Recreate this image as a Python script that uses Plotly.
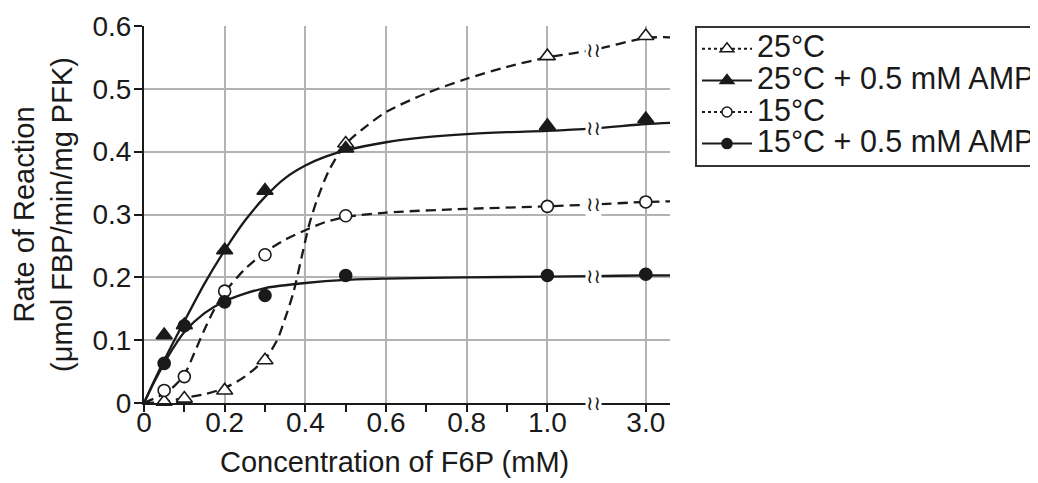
import numpy as np
import plotly.graph_objects as go

# ---------------- data ----------------
X_POINTS = [0.05, 0.1, 0.2, 0.3, 0.5, 1.0, 3.0]
Y_25 = [0.002, 0.007, 0.02, 0.068, 0.413, 0.552, 0.584]
Y_25_AMP = [0.108, 0.124, 0.243, 0.338, 0.405, 0.441, 0.452]
Y_15 = [0.02, 0.042, 0.178, 0.236, 0.298, 0.313, 0.32]
Y_15_AMP = [0.063, 0.123, 0.161, 0.171, 0.203, 0.203, 0.205]

# fitted curves
C25_X = [0, 0.05, 0.1, 0.15, 0.2, 0.25, 0.3, 0.33, 0.35, 0.37, 0.39, 0.41, 0.43, 0.46, 0.5,
         0.55, 0.6, 0.7, 0.8, 0.9, 1.0, 1.94, 3.0, 3.5]
C25_Y = [0, 0.002, 0.008, 0.014, 0.024, 0.042, 0.07, 0.10, 0.135, 0.175, 0.23, 0.285, 0.325,
         0.372, 0.412, 0.44, 0.463, 0.493, 0.516, 0.535, 0.55, 0.562, 0.581, 0.582]

C25A_X = [0, 0.025, 0.05, 0.1, 0.15, 0.2, 0.25, 0.3, 0.35, 0.4, 0.45, 0.5, 0.6, 0.7, 0.8,
          0.9, 1.0, 1.94, 3.0, 3.5]
C25A_Y = [0, 0.035, 0.068, 0.13, 0.19, 0.243, 0.29, 0.328, 0.358, 0.378, 0.392, 0.402, 0.415,
          0.423, 0.428, 0.431, 0.433, 0.437, 0.444, 0.446]

C15_X = [0, 0.05, 0.075, 0.1, 0.125, 0.15, 0.175, 0.2, 0.25, 0.3, 0.35, 0.4, 0.45, 0.5, 0.6,
         0.8, 1.0, 1.94, 3.0, 3.5]
C15_Y = [0, 0.015, 0.027, 0.045, 0.08, 0.117, 0.15, 0.176, 0.213, 0.24, 0.26, 0.275, 0.288,
         0.296, 0.303, 0.309, 0.313, 0.316, 0.32, 0.321]

C15A_X = [0, 0.025, 0.05, 0.075, 0.1, 0.15, 0.2, 0.25, 0.3, 0.4, 0.5, 0.6, 0.8, 1.0, 1.94,
          3.0, 3.5]
C15A_Y = [0, 0.033, 0.063, 0.09, 0.113, 0.143, 0.162, 0.174, 0.183, 0.191, 0.196, 0.198,
          0.2, 0.201, 0.202, 0.203, 0.203]

X_TICKS = [0, 0.2, 0.4, 0.6, 0.8, 1.0, 3.0]
X_TICK_TEXT = ["0", "0.2", "0.4", "0.6", "0.8", "1.0", "3.0"]
X_MINOR = [0.1, 0.3, 0.5, 0.7, 0.9]
Y_TICKS = [0, 0.1, 0.2, 0.3, 0.4, 0.5, 0.6]
Y_TICK_TEXT = ["0", "0.1", "0.2", "0.3", "0.4", "0.5", "0.6"]

NAMES = ["25°C", "25°C + 0.5 mM AMP", "15°C", "15°C + 0.5 mM AMP"]
X_TITLE = "Concentration of F6P (mM)"
Y_TITLE = "Rate of Reaction<br>(μmol FBP/min/mg PFK)"

# ---------------- scale with axis break between 1.0 and 3.0 ----------------
SEG = 0.244          # axis length (in 0..1 units) used for the 1.0 -> 3.0 span
BREAK_X = 1.94       # concentration where the break mark sits
X_END = 1.304


def pos(x):
    x = np.asarray(x, dtype=float)
    return np.where(x <= 1.0, x, 1.0 + (x - 1.0) * SEG / 2.0)


FONT = "Liberation Sans, Arial, Helvetica, sans-serif"
INK = "#1a1a1a"
GRID = "#b3b3b3"
DASH = "10px,6px"
LEG_TXT = 30.5

fig = go.Figure()

series = [
    (C25_X, C25_Y, Y_25, "triangle-up", "white", DASH, 14),
    (C25A_X, C25A_Y, Y_25_AMP, "triangle-up", INK, "solid", 14),
    (C15_X, C15_Y, Y_15, "circle", "white", DASH, 12),
    (C15A_X, C15A_Y, Y_15_AMP, "circle", INK, "solid", 12),
]

for name, (cx, cy, py, sym, fill, dash, ms) in zip(NAMES, series):
    fig.add_trace(go.Scatter(
        x=pos(cx), y=cy, mode="lines",
        line=dict(color=INK, width=2.3, dash=dash, shape="spline", smoothing=0.8),
        showlegend=False, hoverinfo="skip"))
    fig.add_trace(go.Scatter(
        x=pos(X_POINTS), y=py, mode="markers",
        marker=dict(symbol=sym, size=ms, color=fill, line=dict(color=INK, width=1.6)),
        showlegend=False, cliponaxis=False))
    # legend entry (line + marker)
    fig.add_trace(go.Scatter(
        x=[None], y=[None], mode="lines+markers",
        name=f'<span style="font-size:{LEG_TXT}px">{name}</span>',
        line=dict(color=INK, width=2, dash="3px,3px" if dash != "solid" else "solid"),
        marker=dict(symbol=sym, size=ms - 2, color=fill, line=dict(color=INK, width=1.5))))

# axis-break marks on the x axis and on every curve
annotations = []
for cx, cy in [(C25_X, C25_Y), (C25A_X, C25A_Y), (C15_X, C15_Y), (C15A_X, C15A_Y), (None, None)]:
    yb = 0.0 if cx is None else float(np.interp(BREAK_X, cx, cy))
    annotations.append(dict(
        x=float(pos(BREAK_X)), y=yb, xref="x", yref="y", text="≀≀", showarrow=False,
        font=dict(family="DejaVu Sans", size=20, color=INK), bgcolor="white",
        borderpad=0, xanchor="center", yanchor="middle"))

# x-axis title (placed slightly left of the plot centre, as in the reference)
annotations.append(dict(
    x=0.477, y=-0.1565, xref="paper", yref="paper", text=X_TITLE, showarrow=False,
    font=dict(family=FONT, size=29, color=INK), xanchor="center", yanchor="middle"))

# the page adds an 8px body margin, so the figure is 8px smaller than the window
fig.update_layout(
    width=1030, height=475,
    margin=dict(l=136, r=368, t=18, b=80, autoexpand=False),
    paper_bgcolor="white", plot_bgcolor="white",
    font=dict(family=FONT, color=INK, size=28),
    annotations=annotations,
    legend=dict(
        x=1.0475, y=1.0, xanchor="left", yanchor="top",
        bgcolor="white", bordercolor="#333333", borderwidth=2,
        font=dict(family=FONT, size=22, color=INK),
        traceorder="normal", itemwidth=50,
    ),
    xaxis=dict(
        range=[0, X_END], automargin=False,
        tickmode="array", tickvals=list(pos(X_TICKS)), ticktext=X_TICK_TEXT,
        showgrid=True, gridcolor=GRID, gridwidth=2,
        showline=True, linecolor=INK, linewidth=2,
        ticks="outside", ticklen=7, tickwidth=2, tickcolor=INK,
        minor=dict(tickmode="array", tickvals=X_MINOR, ticks="outside", ticklen=7,
                   tickwidth=2, tickcolor=INK, showgrid=False),
        tickfont=dict(size=28), zeroline=False, ticklabelstandoff=-14,
    ),
    yaxis=dict(
        range=[0, 0.6], automargin=False,
        tickmode="array", tickvals=Y_TICKS, ticktext=Y_TICK_TEXT,
        showgrid=True, gridcolor=GRID, gridwidth=2,
        showline=True, linecolor=INK, linewidth=2,
        ticks="outside", ticklen=8, tickwidth=2, tickcolor=INK,
        tickfont=dict(size=28), zeroline=False, ticklabelstandoff=-3,
        title=dict(text=Y_TITLE, font=dict(size=29), standoff=20),
    ),
)

fig.write_html("out.html")
